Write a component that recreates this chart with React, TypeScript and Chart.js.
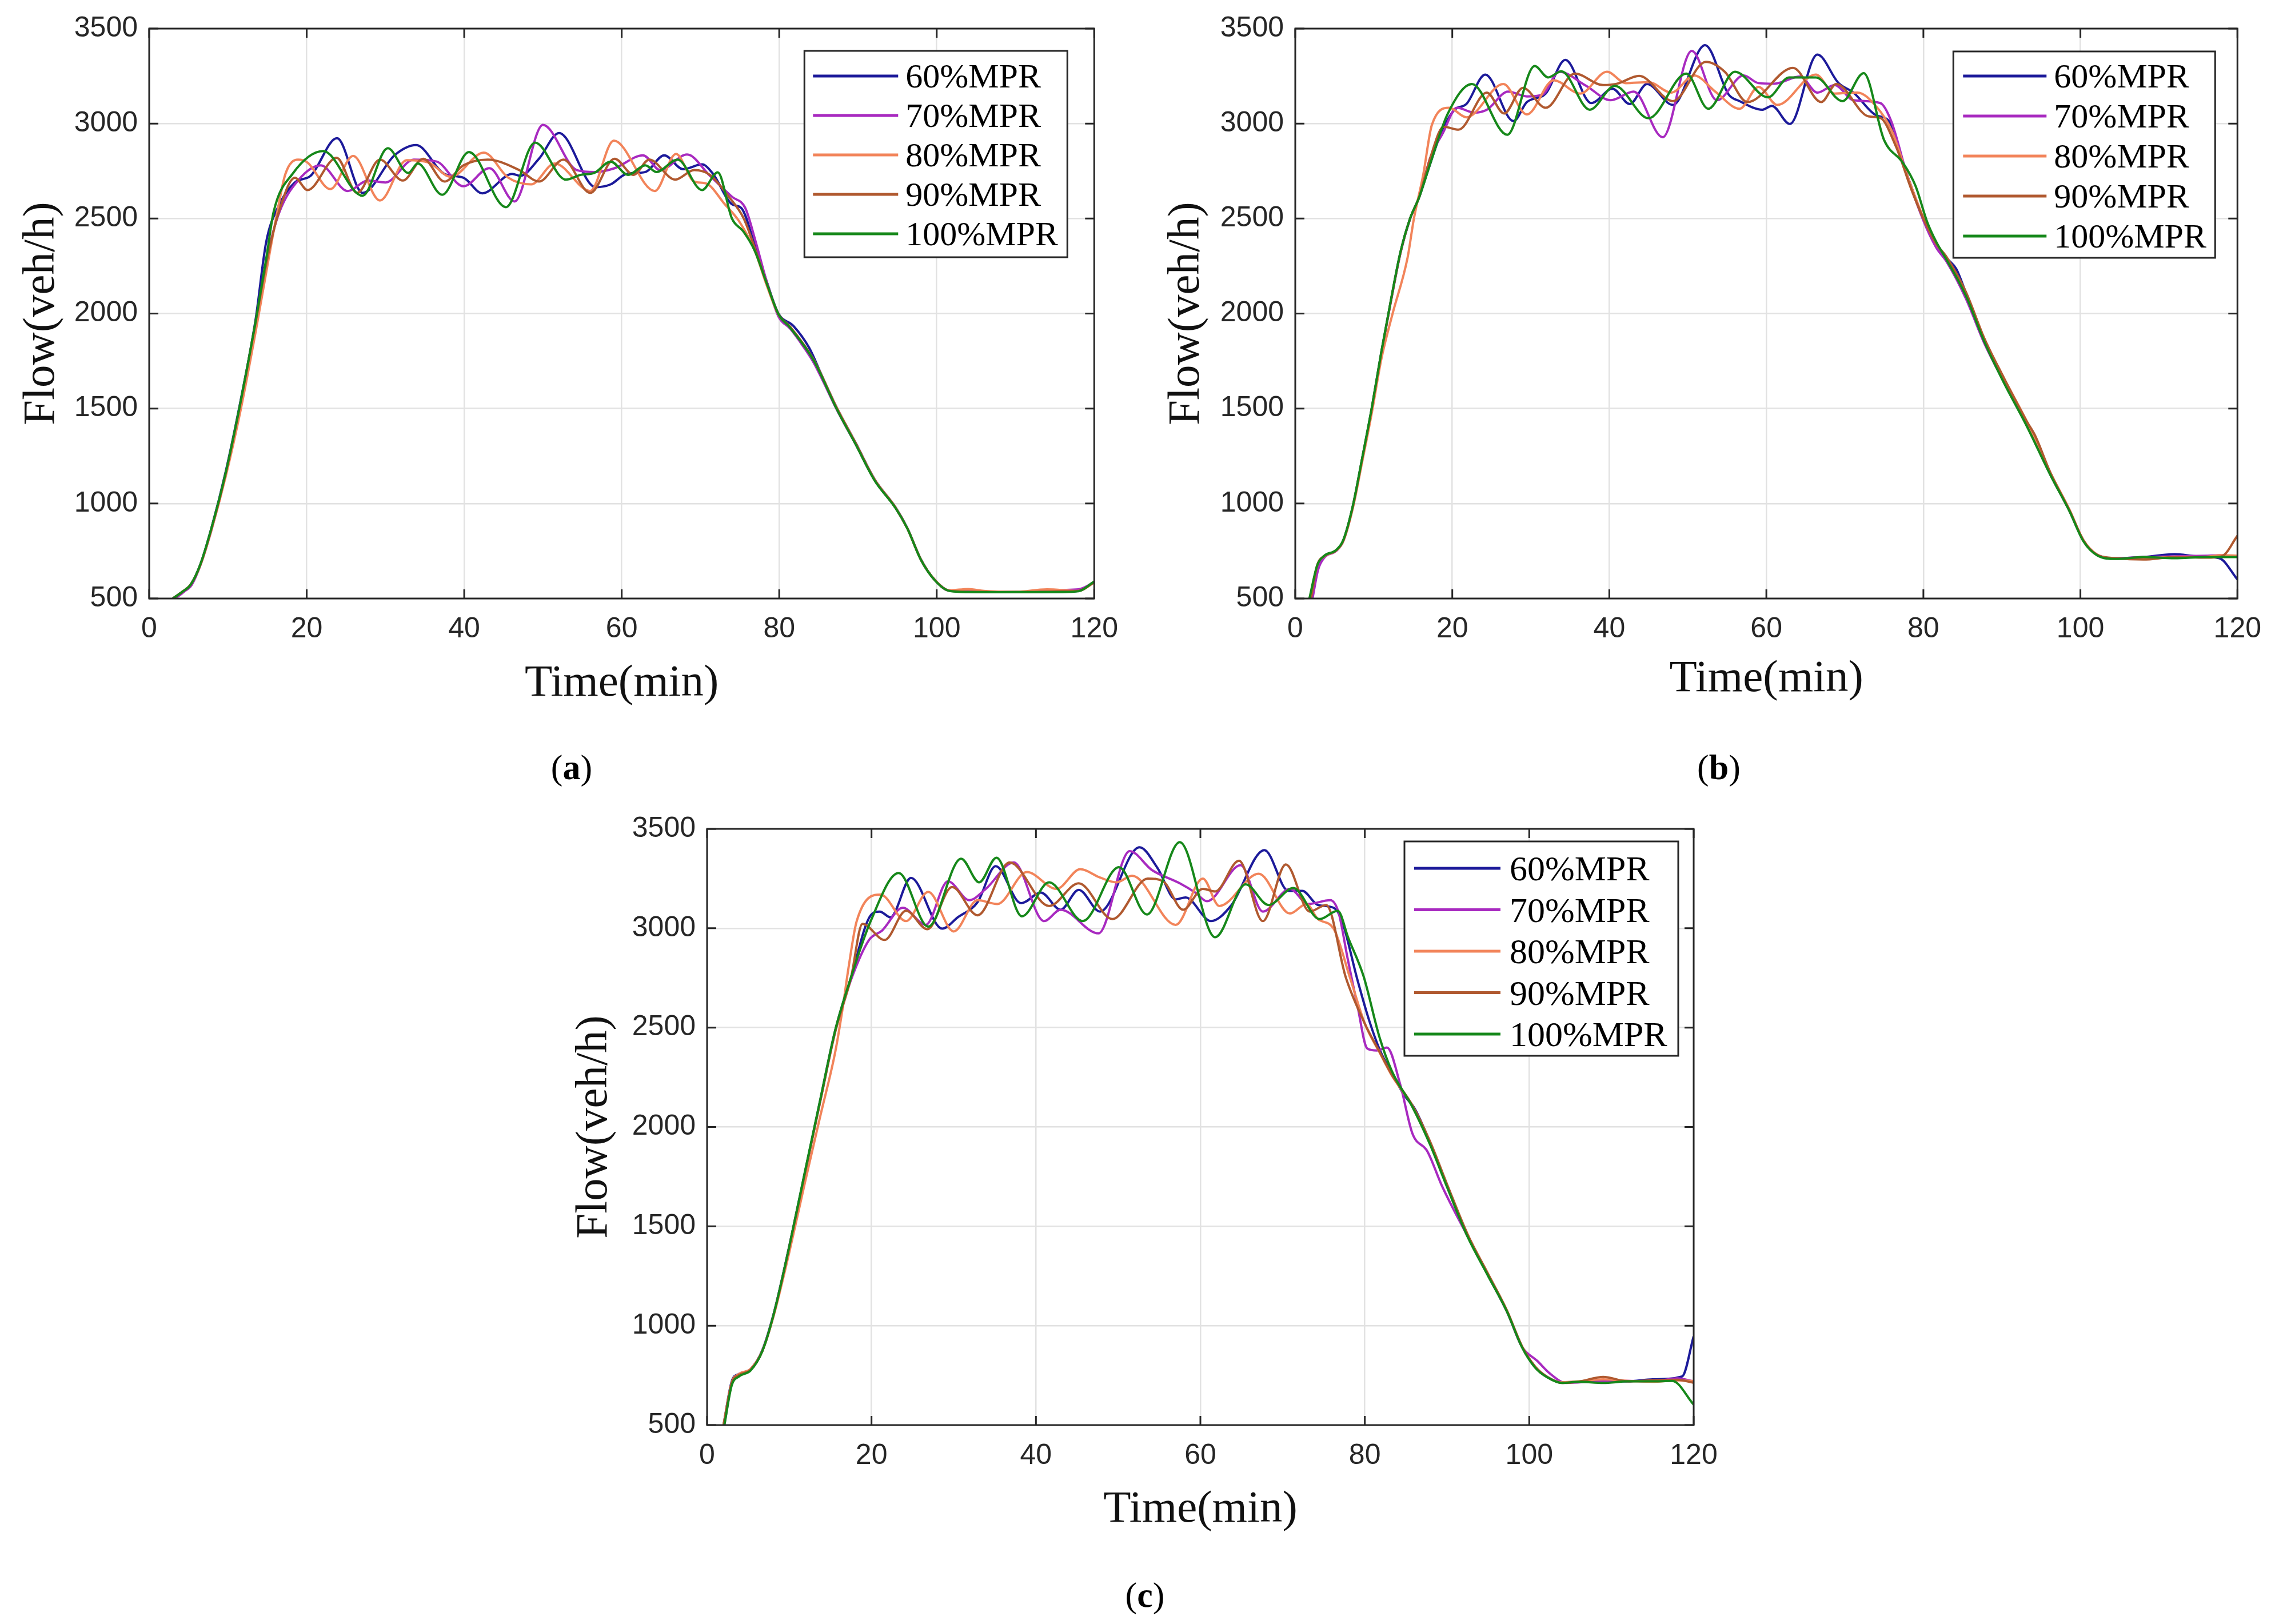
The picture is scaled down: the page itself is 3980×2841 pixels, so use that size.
import React, { useEffect, useRef } from "react";
import { Chart, registerables } from "chart.js";

Chart.register(...registerables);

// ---------- data ----------
const SERIES_LABELS = ["60%MPR", "70%MPR", "80%MPR", "90%MPR", "100%MPR"];
const SERIES_COLORS = ["#1c1a9a", "#a82ac0", "#f2845a", "#b0592f", "#16881a"];
const X_TICKS = [0, 20, 40, 60, 80, 100, 120];
const Y_TICKS = [500, 1000, 1500, 2000, 2500, 3000, 3500];
const X_TITLE = "Time(min)";
const Y_TITLE = "Flow(veh/h)";
const PANEL_LABELS = ["a", "b", "c"];

type Pt = [number, number];

// (a)
const A60: Pt[] = [[3,500],[4.2,535],[5.3,575],[6.5,680],[7.9,870],[9.7,1165],[11.6,1540],[13.5,1965],[14.85,2375],[16.3,2555],[18.5,2690],[20.5,2725],[23.85,2923],[27.1,2635],[31.2,2835],[33.9,2887],[37.5,2735],[39.9,2715],[42.3,2633],[46.1,2735],[47.1,2725],[49.5,2815],[52.05,2950],[56.7,2665],[58.6,2680],[60.6,2735],[63,2745],[65.4,2833],[67.8,2760],[70.2,2785],[71.6,2735],[74,2575],[75.2,2555],[76.9,2360],[78.4,2170],[79.9,2000],[81.8,1935],[83.8,1820],[85.3,1684],[87.3,1505],[89.7,1320],[92.1,1128],[94.8,978],[96.3,868],[98,705],[99.8,595],[101.6,541],[104,536],[108,534],[112,534],[116,536],[118,540],[120,588]];
const A70: Pt[] = [[3.3,500],[4.4,535],[5.4,572],[6.5,675],[7.9,860],[9.7,1150],[11.6,1520],[13.5,1940],[15,2300],[16.5,2530],[19,2705],[21.8,2780],[25.2,2645],[27.8,2700],[30,2690],[33.6,2810],[36.5,2800],[39.9,2670],[43.2,2765],[46.4,2590],[50,2993],[54.3,2755],[56.7,2745],[59.1,2765],[62.7,2833],[64.9,2755],[68.3,2837],[71.2,2725],[74,2615],[75.7,2555],[77,2380],[78.4,2170],[79.9,1985],[81.4,1920],[83,1830],[84.4,1740],[85.5,1650],[87.3,1495],[89.7,1312],[92.1,1124],[94.8,975],[96.3,866],[98,704],[99.8,595],[101.6,541],[104,538],[108,534],[112,536],[116,545],[118,548],[120,585]];
const A80: Pt[] = [[3,500],[4.2,535],[5.3,575],[6.5,675],[7.9,860],[9.7,1140],[11.6,1490],[13.5,1900],[15,2250],[16.2,2520],[17.3,2735],[18.9,2810],[20.1,2795],[23,2655],[25.9,2830],[29.3,2595],[32.7,2807],[35.5,2795],[38.3,2720],[42.5,2847],[45.6,2715],[48.5,2680],[51.5,2790],[56,2645],[59,2910],[64.2,2645],[66.9,2840],[69.2,2695],[70.7,2685],[73.1,2575],[75,2480],[76.9,2330],[78.4,2150],[79.9,1995],[81.4,1928],[84.4,1755],[87.3,1505],[89.7,1318],[92.1,1127],[94.8,977],[96.3,866],[98,704],[99.8,596],[101.6,543],[104,550],[106,540],[110,535],[114,548],[118,540],[120,585]];
const A90: Pt[] = [[3,500],[4.2,535],[5.3,575],[6.5,678],[7.9,865],[9.7,1155],[11.6,1530],[13.5,1950],[15,2290],[16.5,2540],[18.5,2715],[20.1,2650],[23.8,2820],[26.4,2635],[29.3,2810],[32.2,2700],[34.8,2815],[37.5,2695],[39.9,2780],[43,2810],[47,2755],[49.5,2695],[52.6,2810],[56,2635],[59.1,2815],[61.5,2730],[63.5,2810],[66.8,2705],[69.2,2755],[71.2,2730],[73.5,2620],[75.5,2500],[76.9,2345],[78.4,2162],[79.9,1998],[81.4,1930],[84.4,1755],[87.3,1502],[89.7,1318],[92.1,1126],[94.8,976],[96.3,867],[98,704],[99.8,595],[101.6,541],[104,536],[108,534],[112,534],[116,538],[118,540],[120,585]];
const A100: Pt[] = [[3,500],[4.2,535],[5.3,575],[6.5,680],[7.9,870],[9.7,1160],[11.6,1535],[13.5,1955],[14.9,2300],[15.8,2535],[18.2,2735],[22.1,2855],[27.1,2620],[30.3,2870],[32.9,2740],[34.1,2790],[37.2,2625],[40.6,2850],[45.3,2560],[49,2900],[52.9,2705],[54.8,2730],[56.5,2740],[58.6,2800],[60.8,2730],[63,2780],[64.4,2745],[67.1,2810],[70.2,2650],[72.2,2743],[74,2500],[75.45,2432],[76.9,2330],[78.4,2160],[79.9,1997],[81.4,1925],[84.4,1752],[87.3,1498],[89.7,1312],[92.1,1122],[94.8,974],[96.3,866],[98,703],[99.8,594],[101.6,540],[104,534],[108,533],[112,534],[116,534],[118,538],[120,590]];

// (b)
const B60: Pt[] = [[1.9,500],[2.8,672],[3.7,723],[5.2,753],[6.1,804],[7.3,980],[8.55,1242],[9.76,1505],[10.96,1796],[12.2,2073],[13.4,2322],[14.6,2497],[15.8,2614],[16.8,2740],[18.6,2953],[20.3,3073],[21.8,3103],[24.2,3258],[27.8,3013],[29.5,3113],[31.9,3158],[34.4,3335],[37.7,3108],[40.4,3183],[42.6,3103],[44.8,3208],[48.1,3098],[52.2,3413],[55.2,3153],[56.6,3118],[59.5,3073],[60.7,3093],[63,2998],[66.5,3363],[69.2,3213],[71.1,3163],[74,3043],[75.5,3018],[77.9,2733],[80,2500],[81.6,2366],[83,2290],[84.2,2234],[85.4,2110],[87.8,1854],[90.2,1650],[93.2,1416],[96.2,1153],[98.6,963],[100.4,803],[102.1,730],[104.5,712],[108,718],[112,733],[115,722],[117.7,712],[120,600]];
const B70: Pt[] = [[2.2,500],[2.9,650],[3.7,715],[5.2,750],[6.1,800],[7.3,975],[8.55,1238],[9.76,1500],[10.96,1790],[12.2,2068],[13.4,2318],[14.6,2495],[15.8,2615],[17.2,2820],[18.8,2950],[20.6,3083],[22.8,3058],[24.4,3073],[27.1,3168],[29.5,3143],[31.5,3153],[33.6,3273],[37,3200],[40.2,3123],[43.1,3168],[46.8,2928],[50.5,3383],[53.7,3123],[57.1,3253],[59,3213],[61,3210],[64.3,3248],[66.5,3163],[68.7,3203],[71.1,3123],[74.5,3108],[75.9,3013],[77.9,2733],[80,2490],[81.6,2350],[83,2270],[85.4,2080],[87.8,1840],[90.2,1645],[93.2,1410],[96.2,1150],[98.6,962],[100.4,803],[102.1,732],[104.5,712],[108,718],[112,722],[116,725],[118,728],[120,720]];
const B80: Pt[] = [[1.9,500],[2.8,675],[3.7,722],[5.2,752],[6.1,800],[7.3,970],[8.55,1225],[9.76,1480],[10.96,1760],[12.4,2000],[14.3,2293],[15.1,2497],[16.3,2731],[17.4,2993],[19.6,3083],[21.8,3033],[26.5,3208],[29.5,3048],[32.9,3228],[36.3,3158],[39.7,3273],[42.1,3213],[45,3218],[47.9,3163],[50.8,3253],[53.5,3168],[56.6,3078],[59,3193],[61.4,3098],[66.3,3258],[68.7,3158],[71.6,3163],[74,3090],[76,2960],[78,2720],[80,2505],[81.6,2370],[83,2290],[85.4,2110],[87.8,1865],[90.2,1665],[93.2,1430],[96.2,1160],[98.6,968],[100.4,806],[102.1,732],[104.5,708],[108,712],[112,718],[116,720],[118,728],[120,725]];
const B90: Pt[] = [[2,500],[2.8,675],[3.7,724],[5.2,753],[6.1,803],[7.3,978],[8.55,1240],[9.76,1503],[10.96,1793],[12.2,2070],[13.4,2320],[14.6,2497],[15.8,2616],[17.2,2820],[18.9,2983],[20.8,2968],[24.4,3163],[26.6,3053],[29,3188],[31.9,3083],[35.6,3263],[39.2,3203],[41,3210],[43.8,3251],[48.1,3118],[52.3,3325],[54.7,3273],[57.6,3113],[63.4,3293],[67,3113],[68.9,3208],[73,3038],[74.5,3030],[76.5,2880],[78.5,2650],[80,2500],[81.6,2370],[83,2295],[85.4,2115],[87.8,1865],[90.2,1665],[93.2,1430],[94.2,1360],[96.2,1160],[98.6,965],[100.4,805],[102.1,730],[104.5,712],[108,705],[112,718],[116,715],[118,722],[120,830]];
const B100: Pt[] = [[1.8,500],[2.8,675],[3.7,725],[5.2,755],[6.1,806],[7.3,982],[8.55,1245],[9.76,1508],[10.96,1798],[12.2,2075],[13.4,2325],[14.6,2498],[15.8,2614],[17.2,2790],[19.4,3050],[22.5,3208],[27,2941],[30.5,3303],[32.2,3243],[33.9,3275],[37.5,3073],[40.7,3198],[45,3028],[49.8,3263],[52.6,3078],[56,3273],[60.2,3138],[62.9,3243],[66.3,3243],[69.7,3118],[72.4,3265],[75,2913],[77.4,2793],[79,2672],[80.5,2480],[81.6,2380],[83,2280],[85.4,2095],[87.8,1848],[90.2,1640],[93.2,1405],[96.2,1148],[98.6,960],[100.4,800],[102.1,728],[104.5,708],[108,718],[112,712],[116,718],[120,718]];

// (c)
const C60: Pt[] = [[2,500],[3,720],[3.9,758],[5.3,782],[6.7,875],[8.1,1060],[10,1400],[11.9,1770],[13.8,2140],[15.6,2485],[17.5,2751],[19.9,3065],[21,3084],[22.3,3055],[24.8,3253],[28.6,2998],[30.5,3055],[32.9,3131],[35.1,3312],[38.2,3126],[40.6,3179],[43,3093],[45.2,3193],[47.8,3084],[52.6,3407],[54.8,3302],[57,3145],[58.2,3155],[61.3,3036],[63.7,3112],[67.8,3393],[70.7,3188],[72.4,3188],[74.3,3117],[76.2,3103],[77.2,3040],[79.1,2741],[80.5,2540],[81.8,2390],[83.3,2270],[84.8,2160],[86.1,2090],[87.9,1925],[90,1705],[92.5,1455],[94.9,1262],[97.3,1072],[99.1,896],[100.7,793],[102.2,742],[104,715],[106,718],[109,725],[112,720],[115,730],[118.6,745],[120,947]];
const C70: Pt[] = [[2.1,500],[3,710],[3.9,755],[5.3,780],[6.7,872],[8.1,1058],[10,1398],[11.9,1768],[13.8,2140],[15.6,2488],[17.5,2740],[19.7,2941],[21.3,2989],[23.8,3103],[26.6,3017],[29.3,3236],[31.9,3141],[33.9,3198],[37.3,3331],[41,3036],[43,3093],[47.6,2974],[51.4,3388],[54.1,3293],[57.5,3226],[59.4,3179],[60.8,3136],[64.9,3317],[67.6,3084],[70.9,3198],[73.1,3122],[75.8,3141],[76.8,3080],[77.9,2850],[79.1,2611],[80.3,2395],[81.5,2385],[82.7,2400],[84.3,2215],[85.8,1966],[87.6,1878],[89.4,1702],[92.5,1450],[94.9,1260],[97.3,1070],[99.1,895],[101,822],[102.5,760],[104.5,712],[108,720],[112,722],[115,720],[118,735],[120,720]];
const C80: Pt[] = [[2,500],[3,715],[3.9,757],[5.3,783],[6.7,872],[8.1,1050],[10,1370],[11.9,1720],[13.8,2060],[15.6,2380],[16.5,2600],[17.2,2800],[18.2,3036],[21.1,3169],[24.2,3036],[26.9,3183],[30,2984],[32.9,3141],[35.3,3122],[38.9,3283],[42.5,3198],[45.4,3297],[47.8,3255],[49.8,3231],[51.7,3264],[57,3017],[60.3,3250],[62.3,3112],[67.1,3274],[70.9,3074],[72.9,3122],[74.3,3046],[76.2,2998],[78.2,2751],[80,2520],[81.8,2375],[83.3,2258],[85.8,2105],[87.9,1925],[90,1705],[92.5,1458],[94.9,1265],[97.3,1074],[99.1,897],[100.7,795],[102.2,742],[104,715],[106,720],[109,730],[112,722],[115,718],[118,725],[120,722]];
const C90: Pt[] = [[2,500],[3,712],[3.9,752],[5.3,778],[6.7,870],[8.1,1055],[10,1395],[11.9,1765],[13.8,2135],[15.6,2480],[17.5,2750],[18.9,3022],[21.6,2941],[24.2,3088],[26.8,2995],[29.8,3207],[32.9,3065],[36.8,3331],[41.6,3112],[45.2,3226],[49.3,3046],[53.6,3250],[55.5,3235],[57.9,3093],[60.3,3198],[61.8,3185],[64.7,3340],[67.6,3036],[70.4,3321],[73.3,3084],[75.3,3117],[77.7,2751],[80,2520],[81.8,2378],[83.3,2262],[85.8,2108],[87.9,1930],[90,1712],[92.5,1460],[94.9,1268],[97.3,1075],[99.1,898],[100.7,795],[102.2,742],[104,712],[106,718],[109,742],[112,720],[115,725],[118,728],[120,713]];
const C100: Pt[] = [[2.1,500],[3,700],[3.9,745],[5.3,775],[6.7,870],[8.1,1058],[10,1400],[11.9,1775],[13.8,2145],[15.6,2490],[17.5,2752],[19.9,3036],[23.3,3278],[26.9,3008],[30.9,3350],[33.1,3231],[35.2,3355],[38.3,3060],[41.6,3231],[45.7,3036],[50.1,3307],[53.5,3069],[57.5,3433],[61.8,2955],[65.5,3221],[68.3,3117],[71.3,3202],[74.5,3046],[76.7,3088],[78,2950],[79.85,2758],[81.8,2450],[83.3,2280],[85.8,2100],[87.9,1915],[90,1698],[92.5,1448],[94.9,1258],[97.3,1070],[99.1,893],[100.7,790],[102.2,740],[104,712],[106,718],[109,712],[112,720],[115,720],[117.4,722],[120,603]];

const PANEL_A = [A60, A70, A80, A90, A100];
const PANEL_B = [B60, B70, B80, B90, B100];
const PANEL_C = [C60, C70, C80, C90, C100];

// ---------- layout (positions / sizes only) ----------
type Layout = {
  x: number; y: number; w: number; h: number;
  yAxisW: number; padTop: number; padRight: number; xAxisH: number;
  yTitlePad: number; xTitlePad: number;
  legend: { right: number; top: number; w: number; h: number; rowTop: number; rowGap: number; l0: number; l1: number; tx: number; font: number };
  label: { cx: number; cy: number };
};

const LAYOUTS: Layout[] = [
  { x: 0, y: 0, w: 1980, h: 1260, yAxisW: 261, padTop: 43, padRight: 60, xAxisH: 213, yTitlePad: 26, xTitlePad: 16,
    legend: { right: 47, top: 39, w: 460, h: 361, rowTop: 44, rowGap: 69, l0: 15, l1: 164, tx: 177, font: 60 },
    label: { cx: 1000, cy: 1342 } },
  { x: 2000, y: 0, w: 1980, h: 1260, yAxisW: 266, padTop: 43, padRight: 59, xAxisH: 213, yTitlePad: 29, xTitlePad: 24,
    legend: { right: 39, top: 40, w: 458, h: 361, rowTop: 43, rowGap: 70, l0: 17, l1: 163, tx: 176, font: 60 },
    label: { cx: 3007, cy: 1342 } },
  { x: 980, y: 1400, w: 2060, h: 1300, yAxisW: 257, padTop: 44, padRight: 77, xAxisH: 207, yTitlePad: 13, xTitlePad: 11,
    legend: { right: 27, top: 22, w: 479, h: 375, rowTop: 47, rowGap: 72.5, l0: 17, l1: 168, tx: 184, font: 62 },
    label: { cx: 2003, cy: 2790 } },
];

const AXIS_COLOR = "#262626";

const framePlugin = {
  id: "frameLegend",
  afterDatasetsDraw(chart: any, _args: any, opts: any) {
    const { ctx, chartArea } = chart;
    const { left, right, top, bottom } = chartArea;
    const xs = chart.scales.x;
    const ys = chart.scales.y;
    ctx.save();
    ctx.strokeStyle = AXIS_COLOR;
    ctx.lineWidth = 3;
    ctx.strokeRect(left, top, right - left, bottom - top);
    const tl = 16;
    ctx.beginPath();
    for (const t of X_TICKS) {
      const px = xs.getPixelForValue(t);
      ctx.moveTo(px, bottom); ctx.lineTo(px, bottom - tl);
      ctx.moveTo(px, top); ctx.lineTo(px, top + tl);
    }
    for (const v of Y_TICKS) {
      const py = ys.getPixelForValue(v);
      ctx.moveTo(left, py); ctx.lineTo(left + tl, py);
      ctx.moveTo(right, py); ctx.lineTo(right - tl, py);
    }
    ctx.stroke();

    const lg = opts.legend;
    const bx = right - lg.right - lg.w;
    const by = top + lg.top;
    ctx.fillStyle = "#ffffff";
    ctx.fillRect(bx, by, lg.w, lg.h);
    ctx.strokeStyle = AXIS_COLOR;
    ctx.lineWidth = 3;
    ctx.strokeRect(bx, by, lg.w, lg.h);
    ctx.font = `${lg.font}px 'Liberation Serif'`;
    ctx.textBaseline = "alphabetic";
    ctx.textAlign = "left";
    chart.data.datasets.forEach((ds: any, i: number) => {
      const cy = by + lg.rowTop + i * lg.rowGap;
      ctx.strokeStyle = ds.borderColor;
      ctx.lineWidth = 5;
      ctx.beginPath();
      ctx.moveTo(bx + lg.l0, cy);
      ctx.lineTo(bx + lg.l1, cy);
      ctx.stroke();
      ctx.fillStyle = "#000000";
      ctx.fillText(ds.label, bx + lg.tx, cy + lg.font * 0.34);
    });
    ctx.restore();
  },
};

function Panel({ series, layout }: { series: Pt[][]; layout: Layout }) {
  const ref = useRef<HTMLCanvasElement>(null);
  useEffect(() => {
    if (!ref.current) return;
    const L = layout;
    const chart = new Chart(ref.current, {
      type: "line",
      data: {
        datasets: series.map((s, i) => ({
          label: SERIES_LABELS[i],
          data: s.map(([t, v]) => ({ x: t, y: v })),
          borderColor: SERIES_COLORS[i],
          backgroundColor: SERIES_COLORS[i],
          borderWidth: 4,
          pointRadius: 0,
          fill: false,
          cubicInterpolationMode: "monotone" as const,
          order: series.length - 1 - i,
        })),
      },
      options: {
        animation: false,
        responsive: false,
        devicePixelRatio: 1,
        events: [],
        layout: { padding: { top: L.padTop, right: L.padRight, left: 0, bottom: 0 } },
        plugins: {
          legend: { display: false },
          tooltip: { enabled: false },
          title: { display: false },
          frameLegend: { legend: L.legend },
        } as any,
        scales: {
          x: {
            type: "linear",
            min: 0,
            max: 120,
            afterBuildTicks: (s: any) => { s.ticks = X_TICKS.map((v) => ({ value: v })); },
            ticks: {
              font: { family: "'Liberation Sans'", size: 50 },
              color: AXIS_COLOR,
              padding: 24,
              maxRotation: 0,
              autoSkip: false,
              callback: (v: any) => String(v),
            },
            grid: { color: "#e2e2e2", lineWidth: 2.5, drawTicks: false },
            border: { display: false },
            title: {
              display: true,
              text: X_TITLE,
              font: { family: "'Liberation Serif'", size: 79 },
              color: "#111111",
              padding: { top: 0, bottom: L.xTitlePad },
            },
            afterFit: (s: any) => { s.height = L.xAxisH; },
          },
          y: {
            type: "linear",
            min: 500,
            max: 3500,
            afterBuildTicks: (s: any) => { s.ticks = Y_TICKS.map((v) => ({ value: v })); },
            ticks: {
              font: { family: "'Liberation Sans'", size: 50 },
              color: AXIS_COLOR,
              padding: 20,
              autoSkip: false,
              callback: (v: any) => String(v),
            },
            grid: { color: "#e2e2e2", lineWidth: 2.5, drawTicks: false },
            border: { display: false },
            title: {
              display: true,
              text: Y_TITLE,
              font: { family: "'Liberation Serif'", size: 79 },
              color: "#111111",
              padding: { top: L.yTitlePad, bottom: 0 },
            },
            afterFit: (s: any) => { s.width = L.yAxisW; },
          },
        },
      },
      plugins: [framePlugin],
    } as any);
    return () => chart.destroy();
  }, [series, layout]);
  return (
    <canvas
      ref={ref}
      width={layout.w}
      height={layout.h}
      style={{ position: "absolute", left: layout.x, top: layout.y, width: layout.w, height: layout.h }}
    />
  );
}

export default function App() {
  useEffect(() => {
    document.body.style.margin = "0";
    document.body.style.background = "#ffffff";
  }, []);
  const panels = [PANEL_A, PANEL_B, PANEL_C];
  return (
    <div style={{ position: "relative", width: 3980, height: 2841, background: "#ffffff", overflow: "hidden" }}>
      {panels.map((p, i) => (
        <Panel key={i} series={p} layout={LAYOUTS[i]} />
      ))}
      {PANEL_LABELS.map((l, i) => (
        <div
          key={"lbl" + i}
          style={{
            position: "absolute",
            left: LAYOUTS[i].label.cx,
            top: LAYOUTS[i].label.cy,
            transform: "translate(-50%, -50%)",
            fontFamily: "'Liberation Serif', serif",
            fontSize: 62,
            lineHeight: 1,
            color: "#000",
            whiteSpace: "nowrap",
          }}
        >
          (<b>{l}</b>)
        </div>
      ))}
    </div>
  );
}
